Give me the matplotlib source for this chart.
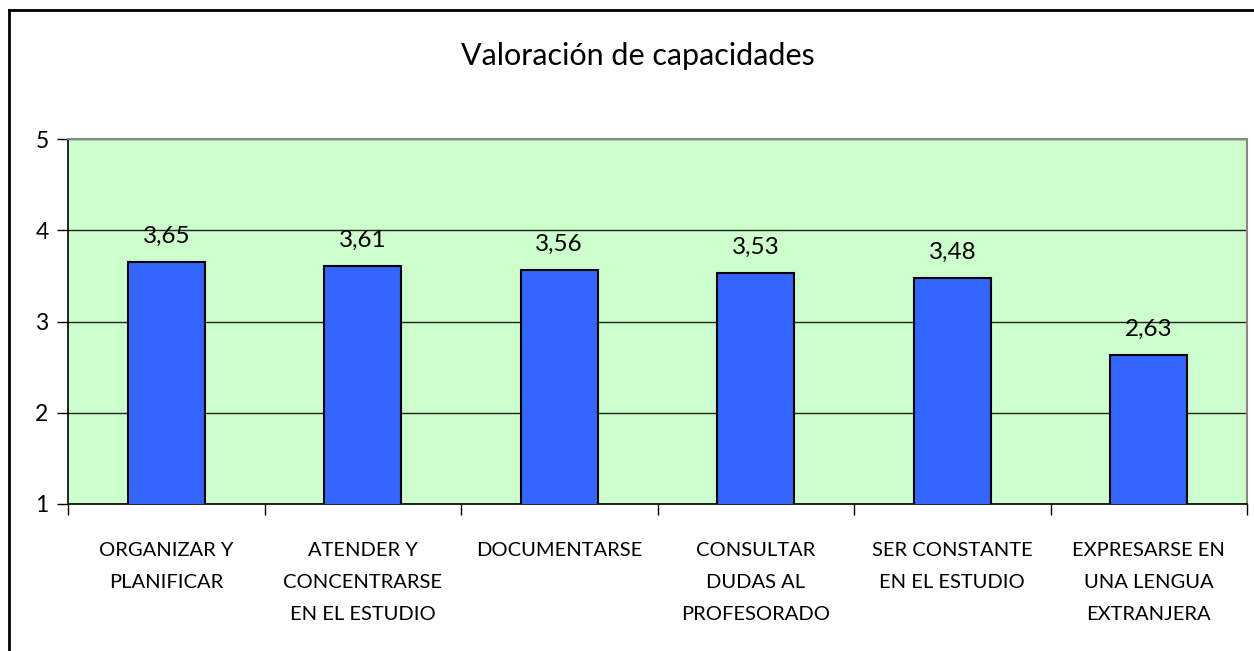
import matplotlib
matplotlib.use("Agg")
import matplotlib.pyplot as plt
from matplotlib.lines import Line2D

# data
categories = ["ORGANIZAR Y\nPLANIFICAR", "ATENDER Y\nCONCENTRARSE\nEN EL ESTUDIO", "DOCUMENTARSE",
              "CONSULTAR\nDUDAS AL\nPROFESORADO", "SER CONSTANTE\nEN EL ESTUDIO",
              "EXPRESARSE EN\nUNA LENGUA\nEXTRANJERA"]
values = [3.65, 3.61, 3.56, 3.53, 3.48, 2.63]
yticks = [1, 2, 3, 4, 5]

plt.rcParams['font.family'] = ['Lato', 'DejaVu Sans']

fig = plt.figure(figsize=(12.54, 6.51), dpi=100)
ax = fig.add_axes([68/1254, 1 - 504/651, (1247 - 68)/1254, (504 - 139)/651])

x = range(len(categories))
ax.bar(x, values, width=0.39, bottom=0, color="#3366FF", edgecolor="black", linewidth=1.5, zorder=3)

ax.set_facecolor("#CCFFCC")
ax.set_xlim(-0.5, len(categories) - 0.5)
ax.set_ylim(1, 5)
ax.set_yticks(yticks)
ax.set_yticklabels([str(t) for t in yticks], fontsize=16.5)
ax.yaxis.grid(True, color="#222222", linewidth=1, zorder=1)
ax.set_axisbelow(True)

# category boundaries as ticks, labels centred between
ax.set_xticks([i - 0.5 for i in range(len(categories) + 1)])
ax.set_xticklabels([])
ax.set_xticks(list(x), minor=True)
ax.set_xticklabels(categories, minor=True, fontsize=14.5, linespacing=2.1, va="top")
ax.tick_params(axis="x", which="major", direction="out", length=8, width=1, color="black")
ax.tick_params(axis="x", which="minor", length=0, pad=27)
ax.tick_params(axis="y", direction="out", length=8, width=1, pad=6)

for side in ["top", "right"]:
    ax.spines[side].set_color("#888888")
    ax.spines[side].set_linewidth(1.5)
for side in ["left", "bottom"]:
    ax.spines[side].set_color("black")
    ax.spines[side].set_linewidth(1.2)

for i, v in enumerate(values):
    ax.annotate(f"{v:.2f}".replace(".", ","), (i, v), xytext=(0, 11), textcoords="offset points",
                ha="center", va="bottom", fontsize=17.5, zorder=4)

fig.text(638/1254, 1 - 56/651, "Valoración de capacidades", ha="center", va="center", fontsize=22)

# chart border (only left and top visible)
fig.add_artist(Line2D([9/1254, 9/1254], [0, 1 - 10/651], transform=fig.transFigure, color="black", linewidth=2))
fig.add_artist(Line2D([9/1254, 1], [1 - 10/651, 1 - 10/651], transform=fig.transFigure, color="black", linewidth=2))

fig.savefig("out.png", dpi=100, facecolor="white")
